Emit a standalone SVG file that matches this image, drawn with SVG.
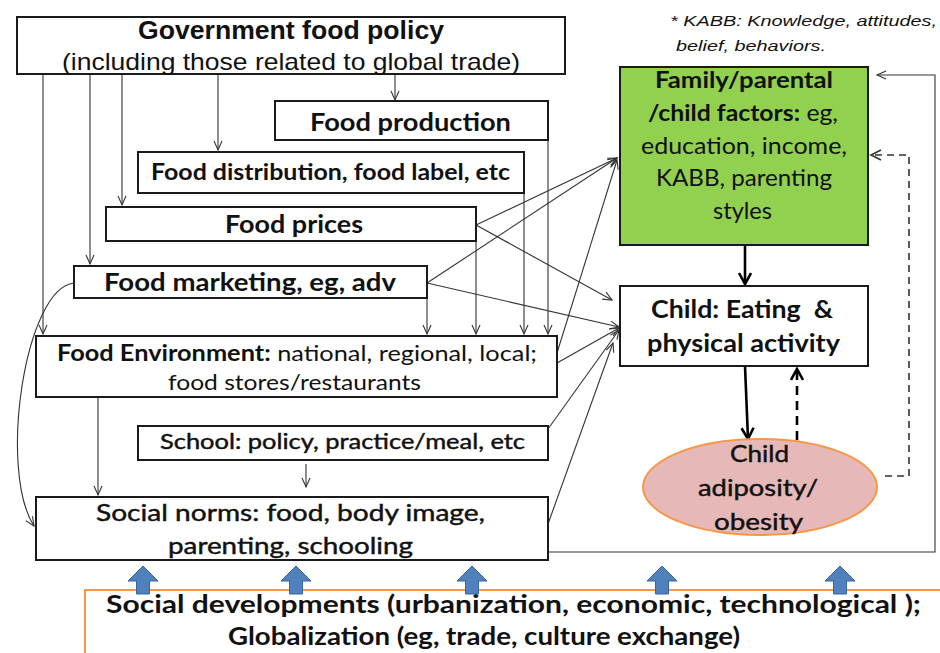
<svg xmlns="http://www.w3.org/2000/svg" width="940" height="653" viewBox="0 0 940 653">
<style>
.box{fill:#fff;stroke:#1a1a1a;stroke-width:2}
.t{font-family:Lato,"Open Sans","Liberation Sans",sans-serif;fill:#111;text-anchor:middle}
.b{font-weight:bold}
.m{stroke:#111;stroke-width:0.45}
.a{font-family:"Liberation Sans",Arial,sans-serif;fill:#111;text-anchor:middle}
.c{fill:none;stroke:#333;stroke-width:1.1}
.k{fill:none;stroke:#000;stroke-width:2.6}
.blue{fill:#4F81BD;stroke:#3A639A;stroke-width:1}
.n{font-family:"Liberation Sans",Arial,sans-serif;font-size:15px;font-style:italic;fill:#111}
</style>
<defs>
<marker id="ah" markerUnits="userSpaceOnUse" markerWidth="12" markerHeight="12" refX="10" refY="5" orient="auto">
<path d="M1,1 L10,5 L1,9" fill="none" stroke="#333" stroke-width="1.1"/>
</marker>
<marker id="ahk" markerUnits="userSpaceOnUse" markerWidth="16" markerHeight="16" refX="13" refY="7" orient="auto">
<path d="M2,1 L13,7 L2,13" fill="none" stroke="#000" stroke-width="2.6"/>
</marker>
<marker id="ahd" markerUnits="userSpaceOnUse" markerWidth="14" markerHeight="14" refX="11" refY="6" orient="auto">
<path d="M1,1 L11,6 L1,11" fill="none" stroke="#333" stroke-width="1.6"/>
</marker>
<path id="barrow" d="M-6.5,28 L-6.5,15 L-15,15 L0,0 L15,15 L6.5,15 L6.5,28 Z"/>
</defs>

<g id="connectors">
<line class="c" x1="395" y1="75" x2="395" y2="100" marker-end="url(#ah)"/>
<line class="c" x1="218" y1="75" x2="218" y2="150" marker-end="url(#ah)"/>
<line class="c" x1="122" y1="75" x2="122" y2="205" marker-end="url(#ah)"/>
<line class="c" x1="90" y1="75" x2="90" y2="264" marker-end="url(#ah)"/>
<line class="c" x1="43" y1="75" x2="43" y2="334" marker-end="url(#ah)"/>
<line class="c" x1="427" y1="298" x2="427" y2="334" marker-end="url(#ah)"/>
<line class="c" x1="476" y1="241" x2="476" y2="334" marker-end="url(#ah)"/>
<line class="c" x1="524" y1="193" x2="524" y2="334" marker-end="url(#ah)"/>
<line class="c" x1="548" y1="140" x2="548" y2="334" marker-end="url(#ah)"/>
<line class="c" x1="476" y1="225" x2="617" y2="158" marker-end="url(#ah)"/>
<line class="c" x1="476" y1="225" x2="612" y2="300" marker-end="url(#ah)"/>
<line class="c" x1="427" y1="283" x2="617" y2="158" marker-end="url(#ah)"/>
<line class="c" x1="427" y1="283" x2="619" y2="327" marker-end="url(#ah)"/>
<line class="c" x1="557" y1="353" x2="617" y2="160" marker-end="url(#ah)"/>
<line class="c" x1="557" y1="363" x2="619" y2="328" marker-end="url(#ah)"/>
<line class="c" x1="548" y1="429" x2="619" y2="330" marker-end="url(#ah)"/>
<line class="c" x1="548" y1="524" x2="613" y2="343" marker-end="url(#ah)"/>
<path class="c" d="M74,283 C25,288 -2,470 34,526" marker-end="url(#ah)"/>
<line class="c" x1="98" y1="397" x2="98" y2="495" marker-end="url(#ah)"/>
<line class="c" x1="306" y1="464" x2="306" y2="487" marker-end="url(#ah)"/>
<polyline class="c" points="548,552 935,552 935,75 877,75" marker-end="url(#ah)"/>
<polyline fill="none" stroke="#333" stroke-width="1.6" stroke-dasharray="7,5" points="885,476 909,476 909,155 871,155" marker-end="url(#ahd)"/>
<line class="k" x1="745" y1="245" x2="745" y2="284" marker-end="url(#ahk)"/>
<line class="k" x1="745" y1="366" x2="748" y2="439" marker-end="url(#ahk)"/>
<line class="k" x1="797" y1="440" x2="797" y2="369" stroke-dasharray="9,6" marker-end="url(#ahk)"/>
</g>

<g id="gov">
<rect class="box" x="17" y="17" width="548" height="57"/>
<text class="a b" x="291" y="39" font-size="25" textLength="306" lengthAdjust="spacingAndGlyphs">Government food policy</text>
<text class="a" x="291" y="70" font-size="24" fill="#222" textLength="458" lengthAdjust="spacingAndGlyphs">(including those related to global trade)</text>
</g>
<g id="production">
<rect class="box" x="275" y="101" width="273" height="39"/>
<text class="t b" x="410.5" y="131" font-size="24" textLength="201" lengthAdjust="spacingAndGlyphs">Food production</text>
</g>
<g id="distribution">
<rect class="box" x="138" y="152" width="386" height="41"/>
<text class="t b" x="330.5" y="180" font-size="22" textLength="359" lengthAdjust="spacingAndGlyphs">Food distribution, food label, etc</text>
</g>
<g id="prices">
<rect class="box" x="106" y="207" width="370" height="34"/>
<text class="t b" x="294" y="233" font-size="24" textLength="138" lengthAdjust="spacingAndGlyphs">Food prices</text>
</g>
<g id="marketing">
<rect class="box" x="74" y="266" width="353" height="32"/>
<text class="t b" x="250" y="291" font-size="24" textLength="292" lengthAdjust="spacingAndGlyphs">Food marketing, eg, adv</text>
</g>
<g id="environment">
<rect class="box" x="36" y="336" width="521" height="61"/>
<text class="t" x="297" y="361" font-size="22" textLength="480" lengthAdjust="spacingAndGlyphs"><tspan font-weight="bold">Food Environment:</tspan> national, regional, local;</text>
<text class="t" x="294.5" y="390" font-size="22" textLength="253" lengthAdjust="spacingAndGlyphs">food stores/restaurants</text>
</g>
<g id="school">
<rect class="box" x="138" y="426" width="410" height="34"/>
<text class="t m" x="342.5" y="449" font-size="22" textLength="365" lengthAdjust="spacingAndGlyphs">School: policy, practice/meal, etc</text>
</g>
<g id="norms">
<rect class="box" x="36" y="497" width="512" height="63"/>
<text class="t m" x="290.5" y="521" font-size="24" textLength="389" lengthAdjust="spacingAndGlyphs">Social norms: food, body image,</text>
<text class="t m" x="290.5" y="554" font-size="24" textLength="245" lengthAdjust="spacingAndGlyphs">parenting, schooling</text>
</g>
<g id="family">
<rect x="620" y="67" width="248" height="178" fill="#92D050" stroke="#1a1a1a" stroke-width="2"/>
<text class="t b" x="744" y="88" font-size="23" textLength="178" lengthAdjust="spacingAndGlyphs">Family/parental</text>
<text class="t" x="743" y="121" font-size="23" textLength="190" lengthAdjust="spacingAndGlyphs"><tspan font-weight="bold">/child factors:</tspan> eg,</text>
<text class="t" x="744" y="154" font-size="23" textLength="206" lengthAdjust="spacingAndGlyphs">education, income,</text>
<text class="t" x="744" y="186" font-size="23" textLength="176" lengthAdjust="spacingAndGlyphs">KABB, parenting</text>
<text class="t" x="742.5" y="219" font-size="23" textLength="59" lengthAdjust="spacingAndGlyphs">styles</text>
</g>
<g id="eating">
<rect class="box" x="620" y="286" width="248" height="80"/>
<text class="t b" x="742" y="318" font-size="24" xml:space="preserve" textLength="182" lengthAdjust="spacingAndGlyphs">Child: Eating  &amp;</text>
<text class="t b" x="743.5" y="352" font-size="24" textLength="193" lengthAdjust="spacingAndGlyphs">physical activity</text>
</g>
<g id="adiposity">
<ellipse cx="760" cy="487" rx="117" ry="48" fill="#E6B9B8" stroke="#F79646" stroke-width="2"/>
<text class="t m" x="759.5" y="462" font-size="24" stroke-width="0.7" textLength="59" lengthAdjust="spacingAndGlyphs">Child</text>
<text class="t m" x="758" y="496" font-size="24" stroke-width="0.7" textLength="120" lengthAdjust="spacingAndGlyphs">adiposity/</text>
<text class="t m" x="758.5" y="530" font-size="24" stroke-width="0.7" textLength="89" lengthAdjust="spacingAndGlyphs">obesity</text>
</g>
<g id="social-dev">
<rect x="85" y="590" width="870" height="80" fill="#fff" stroke="#F79646" stroke-width="2"/>
<text class="t b" x="513.5" y="613" font-size="24" textLength="815" lengthAdjust="spacingAndGlyphs">Social developments (urbanization, economic, technological );</text>
<text class="t b" x="484" y="645" font-size="24" textLength="512" lengthAdjust="spacingAndGlyphs">Globalization (eg, trade, culture exchange)</text>
</g>
<g id="block-arrows">
<use href="#barrow" class="blue" x="143" y="566"/>
<use href="#barrow" class="blue" x="296" y="566"/>
<use href="#barrow" class="blue" x="472" y="566"/>
<use href="#barrow" class="blue" x="662" y="566"/>
<use href="#barrow" class="blue" x="840" y="566"/>
</g>
<g id="note">
<text class="n" x="670" y="26" textLength="267" lengthAdjust="spacingAndGlyphs">* KABB: Knowledge, attitudes,</text>
<text class="n" x="676" y="51" textLength="150" lengthAdjust="spacingAndGlyphs">belief, behaviors.</text>
</g>
</svg>
